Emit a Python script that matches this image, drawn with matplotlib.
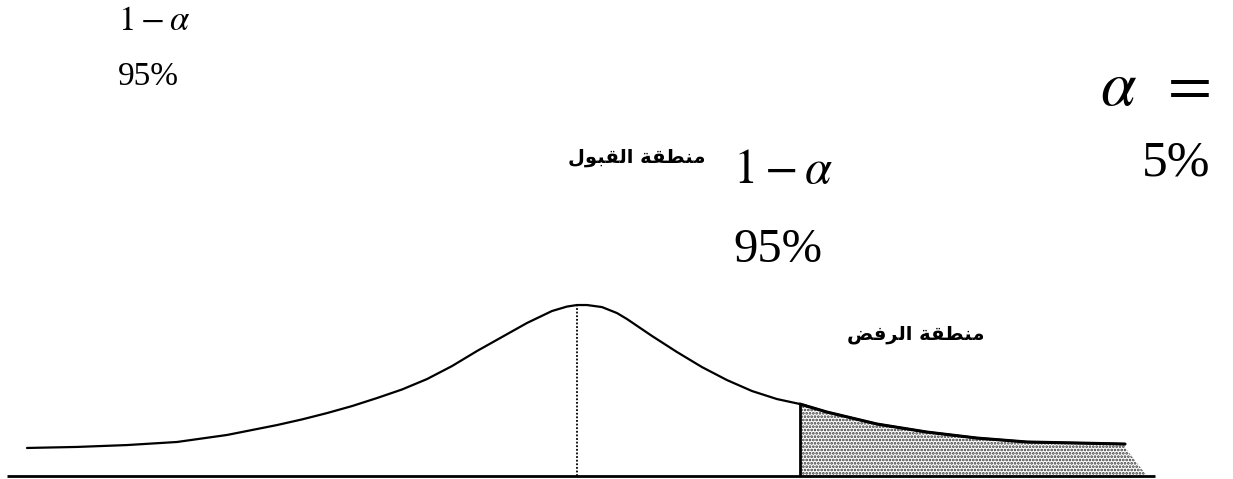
import matplotlib
matplotlib.use("Agg")
import matplotlib.pyplot as plt

# Skewed sampling distribution of the test statistic (statistic value, density)
stat = [-5.5, -5.0, -4.5, -4.0, -3.5, -3.0, -2.75, -2.5, -2.25, -2.0, -1.75,
        -1.5, -1.25, -1.0, -0.75, -0.5, -0.25, -0.1, 0.0, 0.1, 0.25, 0.4,
        0.5, 0.75, 1.0, 1.25, 1.5, 1.75, 2.0, 2.23, 2.5, 3.0, 3.5, 4.0,
        4.5, 5.0, 5.48]
density = [0.164, 0.170, 0.181, 0.199, 0.240, 0.298, 0.331, 0.368, 0.409,
           0.456, 0.506, 0.567, 0.643, 0.731, 0.813, 0.895, 0.965, 0.991,
           1.000, 1.000, 0.988, 0.953, 0.918, 0.819, 0.725, 0.637, 0.561,
           0.497, 0.450, 0.421, 0.374, 0.304, 0.257, 0.222, 0.199, 0.193,
           0.187]

critical_value = 2.23      # start of the rejection region
mean_value = 0.0           # centre of the distribution
tail_foot = 5.70           # where the shaded tail meets the axis
axis_range = [-5.70, 5.78]

conf_label = r"$1-\alpha$"
conf_value = "95%"
alpha_label = r"$\alpha\ \,=$"
alpha_value = "5%"
accept_label = "منطقة القبول"
reject_label = "منطقة الرفض"

# Arabic contextual forms (isolated, final, initial, medial)
FORMS = {
    "ا": ("\uFE8D", "\uFE8E", None, None),
    "ب": ("\uFE8F", "\uFE90", "\uFE91", "\uFE92"),
    "ة": ("\uFE93", "\uFE94", None, None),
    "ر": ("\uFEAD", "\uFEAE", None, None),
    "ض": ("\uFEBD", "\uFEBE", "\uFEBF", "\uFEC0"),
    "ط": ("\uFEC1", "\uFEC2", "\uFEC3", "\uFEC4"),
    "ف": ("\uFED1", "\uFED2", "\uFED3", "\uFED4"),
    "ق": ("\uFED5", "\uFED6", "\uFED7", "\uFED8"),
    "ل": ("\uFEDD", "\uFEDE", "\uFEDF", "\uFEE0"),
    "م": ("\uFEE1", "\uFEE2", "\uFEE3", "\uFEE4"),
    "ن": ("\uFEE5", "\uFEE6", "\uFEE7", "\uFEE8"),
    "و": ("\uFEED", "\uFEEE", None, None),
}


def shape_arabic(text):
    """Join Arabic letters and return them in visual (left-to-right) order."""
    chars = list(text)
    out = []
    for i, ch in enumerate(chars):
        if ch not in FORMS:
            out.append(ch)
            continue
        iso, fin, ini, med = FORMS[ch]
        prev = chars[i - 1] if i > 0 else None
        nxt = chars[i + 1] if i + 1 < len(chars) else None
        joins_prev = prev in FORMS and FORMS[prev][2] is not None
        joins_next = nxt in FORMS and ini is not None
        if joins_prev and joins_next:
            out.append(med)
        elif joins_prev:
            out.append(fin)
        elif joins_next:
            out.append(ini)
        else:
            out.append(iso)
    return "".join(reversed(out))


plt.rcParams["mathtext.fontset"] = "stix"
plt.rcParams["hatch.linewidth"] = 1.3

fig = plt.figure(figsize=(12.33, 4.79), dpi=100)
ax = fig.add_axes([0, 0, 1, 1])
ax.set_xlim(-5.77, 6.56)
ax.set_ylim(-0.0175, 2.784)
ax.axis("off")

# horizontal axis
ax.plot(axis_range, [0, 0], color="black", lw=2.0, solid_capstyle="butt")

# density curve
ax.plot(stat, density, color="black", lw=1.6, solid_joinstyle="round",
        solid_capstyle="round")

# mean marker
peak = density[stat.index(mean_value)]
ax.vlines(mean_value, 0, peak, colors="black", linestyles=(0, (1, 1.0)), lw=1.3)

# shaded rejection region
i0 = stat.index(critical_value)
tail_x = stat[i0:] + [stat[-1], tail_foot, critical_value]
tail_y = density[i0:] + [density[-1] - 0.02, 0.0, 0.0]
ax.fill(tail_x, tail_y, facecolor="white", edgecolor="#333333", hatch=".....",
        linewidth=0)
ax.vlines(critical_value, 0, density[i0], colors="black", lw=2.0)
ax.plot(stat[i0:], density[i0:], color="black", lw=2.2, solid_capstyle="round")

serif = "Liberation Serif"
fig.text(118 / 1233, 1 - 30 / 479, conf_label, fontsize=25, family=serif)
fig.text(118 / 1233, 1 - 85 / 479, conf_value, fontsize=24, family=serif)
fig.text(733 / 1233, 1 - 183 / 479, conf_label, fontsize=35, family=serif)
fig.text(733 / 1233, 1 - 262 / 479, conf_value, fontsize=35, family=serif)
fig.text(1100 / 1233, 1 - 105 / 479, alpha_label, fontsize=46, family=serif)
fig.text(1142 / 1233, 1 - 175 / 479, alpha_value, fontsize=37, family=serif)

fig.text(705 / 1233, 1 - 163 / 479, shape_arabic(accept_label), fontsize=14,
         family=["DejaVu Sans"], weight="bold", ha="right")
fig.text(985 / 1233, 1 - 340 / 479, shape_arabic(reject_label), fontsize=14,
         family=["DejaVu Sans"], weight="bold", ha="right")

fig.savefig("out.png", dpi=100, facecolor="white")
